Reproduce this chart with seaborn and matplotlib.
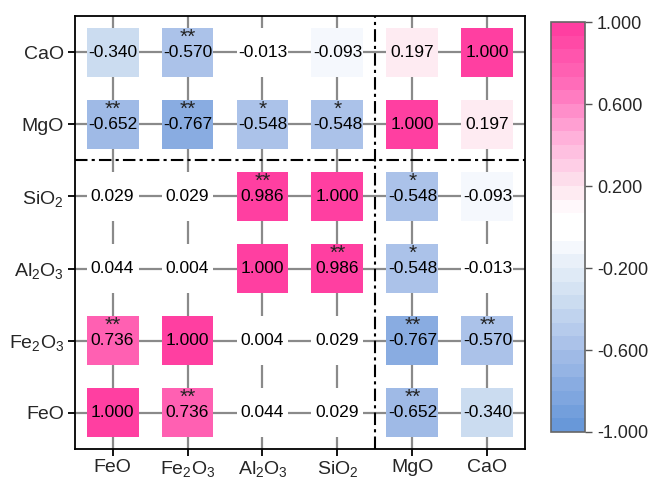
import numpy as np
import pandas as pd
import seaborn as sns
import matplotlib.pyplot as plt
from matplotlib.colors import LinearSegmentedColormap, ListedColormap, Normalize
from matplotlib.cm import ScalarMappable
from matplotlib.path import Path

# variables, bottom-to-top on y and left-to-right on x
variables = ["FeO", "Fe2O3", "Al2O3", "SiO2", "MgO", "CaO"]
labels = ["FeO", r"Fe$\mathregular{_2}$O$\mathregular{_3}$", r"Al$\mathregular{_2}$O$\mathregular{_3}$",
          r"SiO$\mathregular{_2}$", "MgO", "CaO"]

# correlation matrix (same order as variables)
corr = [
    [1.000, 0.736, 0.044, 0.029, -0.652, -0.340],
    [0.736, 1.000, 0.004, 0.029, -0.767, -0.570],
    [0.044, 0.004, 1.000, 0.986, -0.548, -0.013],
    [0.029, 0.029, 0.986, 1.000, -0.548, -0.093],
    [-0.652, -0.767, -0.548, -0.548, 1.000, 0.197],
    [-0.340, -0.570, -0.013, -0.093, 0.197, 1.000],
]
# significance marks
stars = [
    ["", "**", "", "", "**", ""],
    ["**", "", "", "", "**", "**"],
    ["", "", "", "**", "*", ""],
    ["", "", "**", "", "*", ""],
    ["**", "**", "*", "*", "", ""],
    ["", "**", "", "", "", ""],
]
cbar_ticks = [-1.0, -0.6, -0.2, 0.2, 0.6, 1.0]

sns.set_style("ticks")
plt.rcParams["font.family"] = ["Liberation Sans", "DejaVu Sans"]
plt.rcParams["mathtext.fontset"] = "custom"
plt.rcParams["mathtext.rm"] = "Liberation Sans"

# discrete blue-white-pink colormap
base = LinearSegmentedColormap.from_list("bwp", [
    (0.00, "#6395d8"),
    (0.20, "#a6bee8"),
    (0.33, "#cfdff1"),
    (0.42, "#eaf1f9"),
    (0.455, "#f6f9fe"),
    (0.48, "#ffffff"),
    (0.53, "#ffffff"),
    (0.565, "#fff3f7"),
    (0.60, "#fde4ee"),
    (0.72, "#ffb0da"),
    (0.85, "#ff6cb9"),
    (1.00, "#ff3a9e"),
])
n_levels = 30
cmap = ListedColormap(base((np.arange(n_levels) + 0.5) / n_levels))
norm = Normalize(-1, 1)

rows = []
for i, yv in enumerate(variables):
    for j, xv in enumerate(variables):
        rows.append({"x": j, "y": i, "r": corr[i][j], "star": stars[i][j]})
df = pd.DataFrame(rows)

fig = plt.figure(figsize=(6.53, 4.80), dpi=100)
ax = fig.add_axes([0.1149, 0.0646, 0.689, 0.902])
cax = fig.add_axes([0.8438, 0.100, 0.052, 0.854])

# gray connecting lines
for k in range(6):
    ax.axhline(k, color="#8a8a8a", lw=1.6, zorder=1)
    ax.axvline(k, color="#8a8a8a", lw=1.6, zorder=1)

rect = Path([(-0.5, -0.47), (0.5, -0.47), (0.5, 0.47), (-0.5, 0.47), (-0.5, -0.47)],
            [Path.MOVETO, Path.LINETO, Path.LINETO, Path.LINETO, Path.CLOSEPOLY])
sns.scatterplot(data=df, x="x", y="y", hue="r", palette=cmap, hue_norm=norm,
                marker=rect, s=1400, linewidth=0, legend=False, ax=ax, zorder=2)

for _, row in df.iterrows():
    ax.text(row["x"], row["y"], f"{row['r']:.3f}", ha="center", va="center",
            fontsize=12.5, color="black", zorder=3)
    if row["star"]:
        ax.text(row["x"], row["y"] + 0.21, row["star"], ha="center", va="center",
                fontsize=15, color="#222222", zorder=3)

# dash-dot separators
ax.axhline(3.5, color="black", lw=1.5, ls=(0, (6, 2, 1.5, 2)), zorder=4)
ax.axvline(3.5, color="black", lw=1.5, ls=(0, (6, 2, 1.5, 2)), zorder=4)

ax.set_xlim(-0.5, 5.5)
ax.set_ylim(-0.5, 5.5)
ax.set_xticks(range(6))
ax.set_yticks(range(6))
ax.set_xticklabels(labels)
ax.set_yticklabels(labels)
ax.set_xlabel("")
ax.set_ylabel("")
ax.tick_params(axis="both", labelsize=14, length=5, width=1.3, color="black", pad=3)
ax.tick_params(axis="x", pad=2)
for sp in ax.spines.values():
    sp.set_visible(True)
    sp.set_linewidth(1.3)
    sp.set_color("black")

cb = fig.colorbar(ScalarMappable(norm=norm, cmap=cmap), cax=cax)
cb.set_ticks(cbar_ticks)
cb.set_ticklabels([f"{t:.3f}" for t in cbar_ticks])
cb.ax.tick_params(labelsize=13, length=5, width=1, color="#555555")
cb.outline.set_edgecolor("#666666")
cb.outline.set_linewidth(1.2)

plt.savefig("out.png", dpi=100)
